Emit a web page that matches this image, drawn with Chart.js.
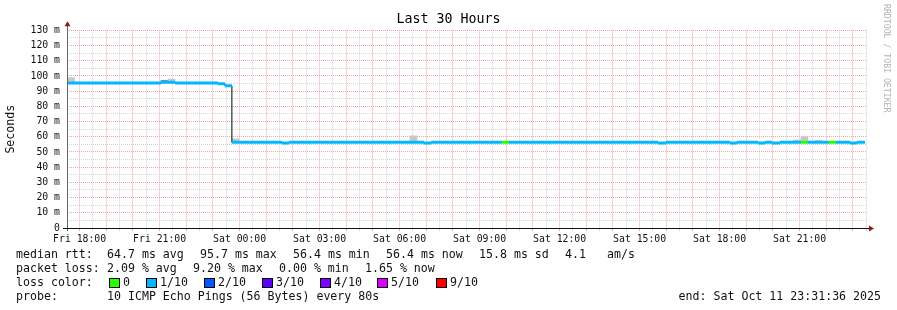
<!DOCTYPE html>
<html>
<head>
<meta charset="utf-8">
<script src="https://cdn.jsdelivr.net/npm/chart.js@4.4.1/dist/chart.umd.min.js"></script>
<style>
  html,body{margin:0;padding:0;background:#fff}
  #wrap{position:relative;width:897px;height:310px;overflow:hidden}
  #c{position:absolute;left:0;top:0}
  .t{position:absolute;font-family:'DejaVu Sans Mono',monospace;font-size:11.6px;line-height:14px;color:#111;white-space:pre}
  .sw{position:absolute;width:11px;height:10px;box-sizing:border-box;border:1px solid #000}
  #mark{position:absolute;left:882px;top:4px;writing-mode:vertical-rl;font-family:'DejaVu Sans Mono',monospace;font-size:8.2px;color:#b4b4b4;white-space:pre}
</style>
</head>
<body>
<div id="wrap">
  <canvas id="c" width="897" height="310"></canvas>
  <div id="mark">RRDTOOL / TOBI OETIKER</div>
</div>
<script>
/* ====================== DATA ====================== */
// x values are hours since Fri 00:00 (graph ends Sat 23:31:36, spans 30 h)
const START_H = 17 + 31.6/60;
const END_H   = START_H + 30;

const tickHours  = [18, 21, 24, 27, 30, 33, 36, 39, 42, 45];
const tickLabels = ['Fri 18:00','Fri 21:00','Sat 00:00','Sat 03:00','Sat 06:00',
                    'Sat 09:00','Sat 12:00','Sat 15:00','Sat 18:00','Sat 21:00'];

// median rtt (ms), one entry per run; each run lasts until the next start
const medStart = [17.53, 21.05, 21.58, 23.19, 23.45, 23.71, 25.58, 25.85, 30.91, 31.18,
                  33.83, 34.10, 39.69, 39.99, 42.39, 42.65, 43.44, 43.70, 43.96, 44.26,
                  45.05, 45.31, 46.10, 46.36, 46.89, 47.15];
const medValue = [95.4, 95.9, 95.4, 94.9, 93.5, 56.4, 55.9, 56.4, 55.9, 56.4,
                  56.4, 56.4, 55.9, 56.4, 55.9, 56.4, 55.9, 56.4, 55.9, 56.4,
                  56.4, 56.4, 56.4, 56.4, 55.9, 56.4];
const medLoss  = [1, 1, 1, 1, 1, 1, 1, 1, 1, 1,
                  0, 1, 1, 1, 1, 1, 1, 1, 1, 1,
                  0, 1, 0, 1, 1, 1];
const medEnd = 47.45;

// smoke (ping spread) blocks
const smokeStart = [17.53, 21.05, 21.31, 23.71, 30.39, 44.75, 45.05, 45.58];
const smokeEnd   = [17.83, 21.31, 21.58, 23.98, 30.65, 45.05, 45.31, 45.84];
const smokeLow   = [95.4, 95.9, 95.9, 56.4, 56.4, 56.4, 56.4, 56.4];
const smokeHigh  = [99.0, 97.2, 97.9, 58.7, 60.7, 57.9, 60.0, 57.7];
const smokeDark  = [0, 1, 0, 0, 0, 0, 0, 0];

const lossLabels = ['0','1/10','2/10','3/10','4/10','5/10','9/10'];
const lossColors = ['#26ff00','#00b8ff','#0059ff','#5e00ff','#7e00ff','#dd00ff','#ff0000'];

const rttStats  = ['64.7 ms avg','95.7 ms max','56.4 ms min','56.4 ms now','15.8 ms sd','4.1','am/s'];
const lossStats = ['2.09 % avg','9.20 % max','0.00 % min','1.65 % now'];
const probeText = '10 ICMP Echo Pings (56 Bytes) every 80s';
const endText   = 'end: Sat Oct 11 23:31:36 2025';

/* ===================== HELPERS ==================== */
const MONO = "'DejaVu Sans Mono', monospace";
const RED  = '#f3a6a6';
const GRAY = '#d6d6d6';
const wrap = document.getElementById('wrap');

function txt(s, x, cy){
  const d = document.createElement('div');
  d.className = 't'; d.textContent = s;
  d.style.left = x + 'px'; d.style.top = (cy - 7) + 'px';
  wrap.appendChild(d); return d;
}

/* ===================== DATASETS =================== */
const smokeData = smokeStart.map((s,i)=>({x:(s+smokeEnd[i])/2, y:[smokeLow[i], smokeHigh[i]]}));

const stepData = medStart.map((s,i)=>({x:s, y:medValue[i]}));
stepData.push({x:medEnd, y:medValue[medValue.length-1]});

const colData = [];
medStart.forEach((s,i)=>{
  const e = i < medStart.length-1 ? medStart[i+1] : medEnd;
  colData.push({x:s, y:medValue[i]}, {x:e, y:medValue[i]}, {x:e, y:null});
});

const halfHours = [];
for (let h = 18; h <= END_H; h += 0.5) halfHours.push(h);

/* ===================== AXES PLUGIN ================ */
const axesPlugin = {
  id:'rrdAxes',
  afterDatasetsDraw(chart){
    const {ctx, chartArea:a} = chart;
    ctx.save();
    ctx.lineWidth = 1;
    ctx.strokeStyle = '#666';
    ctx.beginPath(); ctx.moveTo(a.left+0.5, a.bottom+3); ctx.lineTo(a.left+0.5, a.top-6); ctx.stroke();
    ctx.strokeStyle = '#111';
    ctx.beginPath(); ctx.moveTo(a.left-4, a.bottom+0.5); ctx.lineTo(a.right+2, a.bottom+0.5); ctx.stroke();
    ctx.fillStyle = '#8b1a1a';
    ctx.beginPath(); ctx.moveTo(a.left+0.5, a.top-9); ctx.lineTo(a.left-2.5, a.top-4); ctx.lineTo(a.left+3.5, a.top-4); ctx.closePath(); ctx.fill();
    ctx.beginPath(); ctx.moveTo(a.right+7, a.bottom+0.5); ctx.lineTo(a.right+2, a.bottom-2.5); ctx.lineTo(a.right+2, a.bottom+3.5); ctx.closePath(); ctx.fill();
    ctx.restore();
  }
};

/* ======================= CHART ==================== */
new Chart(document.getElementById('c'), {
  type:'line',
  data:{ datasets:[
    { type:'bar', data:smokeData, order:3, barThickness:7, borderWidth:0,
      backgroundColor: c => smokeDark[c.dataIndex] ? '#8c8c8c' : '#c8c8c8' },
    { data:stepData, order:2, stepped:'before', borderColor:'#000', borderWidth:1,
      pointRadius:0, fill:false },
    { data:colData, order:1, borderWidth:3, pointRadius:0, fill:false, spanGaps:false,
      borderColor: lossColors[1],
      segment:{ borderColor: c => lossColors[medLoss[Math.floor(c.p0DataIndex/3)]] } }
  ]},
  options:{
    responsive:false, animation:false, devicePixelRatio:1,
    layout:{ padding:0 },
    plugins:{
      legend:{display:false}, tooltip:{enabled:false},
      title:{ display:true, text:'Last 30 Hours', color:'#000',
              font:{family:MONO, size:13.3, weight:'normal'}, padding:{top:12, bottom:2.4} }
    },
    scales:{
      x:{ type:'linear', min:START_H, max:END_H, offset:false,
          afterFit: s => { s.height = 82; },
          afterBuildTicks: s => { s.ticks = halfHours.map(v=>({value:v})); },
          ticks:{ autoSkip:false, maxRotation:0, padding:2.5, color:'#111',
                  font:{family:MONO, size:9.8},
                  callback: v => { const k = tickHours.indexOf(v); return k < 0 ? '' : tickLabels[k]; } },
          grid:{ offset:false, lineWidth:1, drawTicks:true, tickLength:3,
                 color: c => (c.tick && Number.isInteger(c.tick.value)) ? RED : GRAY },
          border:{ display:false, dash:[1,1] } },
      y:{ min:0, max:130,
          afterFit: s => { s.width = 67; },
          ticks:{ stepSize:5, autoSkip:false, padding:7, color:'#111',
                  font:{family:MONO, size:9.8},
                  callback: v => v % 10 ? '' : (v === 0 ? '0' : v + ' m') },
          grid:{ drawTicks:false, lineWidth:1,
                 color: c => (c.tick && c.tick.value % 10 === 0) ? RED : GRAY },
          border:{ display:false, dash:[1,1] },
          title:{ display:true, text:'Seconds', color:'#111',
                  font:{family:MONO, size:11.6}, padding:{top:4, bottom:0} } },
      // empty right-hand strip (keeps the title centred on the whole image)
      yr:{ position:'right', min:0, max:130,
           afterFit: s => { s.width = 30; },
           grid:{ display:false }, ticks:{ display:false }, border:{ display:false } }
    }
  },
  plugins:[axesPlugin]
});

/* ===================== LEGEND ===================== */
const rttX  = [107, 200, 293, 386, 479, 565, 607];
const lossX = [107, 193, 279, 365];
const swX   = [109, 146, 204, 262, 320, 377, 436];

txt('median rtt:', 16, 254.3);
rttStats.forEach((s,i)=>txt(s, rttX[i], 254.3));
txt('packet loss:', 16, 268.3);
lossStats.forEach((s,i)=>txt(s, lossX[i], 268.3));
txt('loss color:', 16, 282.3);
lossLabels.forEach((s,i)=>{
  const b = document.createElement('div');
  b.className = 'sw'; b.style.left = swX[i] + 'px'; b.style.top = '277.5px';
  b.style.background = lossColors[i];
  wrap.appendChild(b);
  txt(s, swX[i] + 14, 282.3);
});
txt('probe:', 16, 296);
txt(probeText, 107, 296);
const endDiv = txt(endText, 0, 296);
endDiv.style.left = 'auto'; endDiv.style.right = (897 - 881) + 'px';
</script>
</body>
</html>
